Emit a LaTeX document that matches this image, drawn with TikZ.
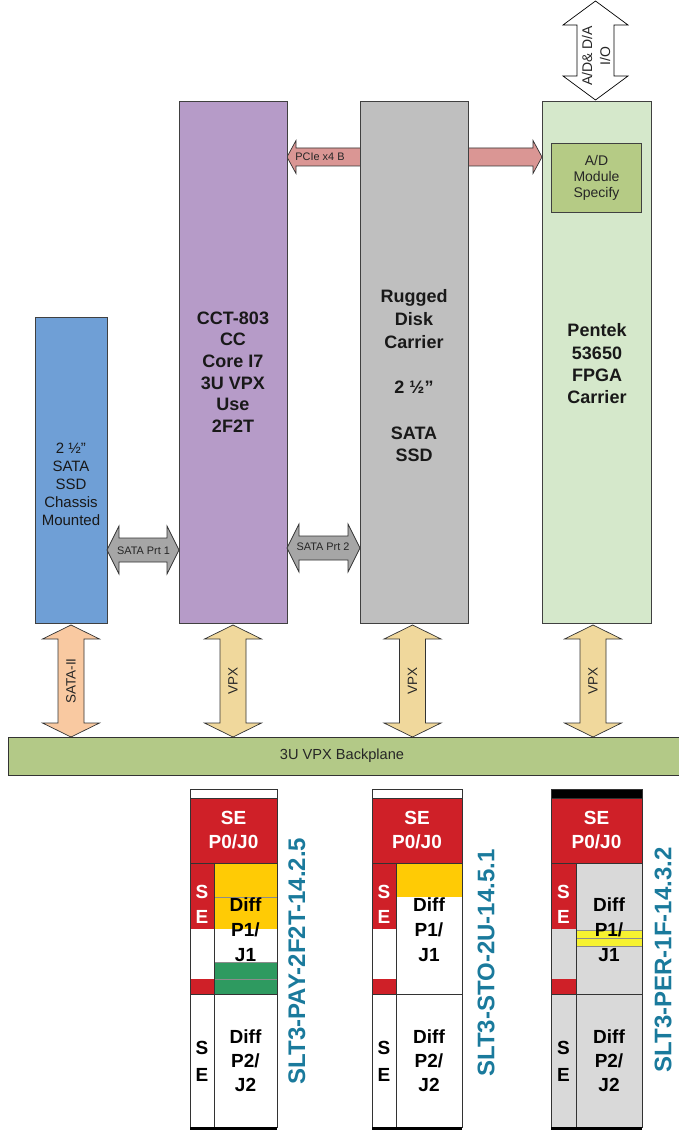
\documentclass[tikz,border=0pt]{standalone}
\usepackage{fontspec}
\setmainfont{Liberation Sans}
\usetikzlibrary{calc}
\definecolor{cblue}{HTML}{6F9FD6}
\definecolor{cpurple}{HTML}{B69BC8}
\definecolor{cgray}{HTML}{BFBFBF}
\definecolor{cgreenl}{HTML}{D5E8CB}
\definecolor{cgreenm}{HTML}{B5CB85}
\definecolor{cback}{HTML}{B3C987}
\definecolor{cpcie}{HTML}{DA9694}
\definecolor{csata}{HTML}{A6A6A6}
\definecolor{csataii}{HTML}{F9C9A1}
\definecolor{cvpx}{HTML}{F0D89C}
\definecolor{cred}{HTML}{CF2028}
\definecolor{cyel}{HTML}{FFCB05}
\definecolor{cgrn}{HTML}{2E9A60}
\definecolor{clgray}{HTML}{D9D9D9}
\definecolor{cbyel}{HTML}{F7F230}
\definecolor{cteal}{HTML}{1A7A9C}
\newcommand{\VArrow}[7]{%
 \filldraw[#1] (#2,#3) -- ({#2+#5},{#3+#7}) -- ({#2+#6},{#3+#7}) -- ({#2+#6},{#4-#7}) -- ({#2+#5},{#4-#7}) -- (#2,#4) -- ({#2-#5},{#4-#7}) -- ({#2-#6},{#4-#7}) -- ({#2-#6},{#3+#7}) -- ({#2-#5},{#3+#7}) -- cycle;}
\newcommand{\HArrow}[7]{%
 \filldraw[#1] (#2,#4) -- ({#2+#7},{#4-#5}) -- ({#2+#7},{#4-#6}) -- ({#3-#7},{#4-#6}) -- ({#3-#7},{#4-#5}) -- (#3,#4) -- ({#3-#7},{#4+#5}) -- ({#3-#7},{#4+#6}) -- ({#2+#7},{#4+#6}) -- ({#2+#7},{#4+#5}) -- cycle;}
\begin{document}
\begin{tikzpicture}[x=1pt,y=-1pt,
  box/.style={draw=black!75, line width=0.8pt, inner sep=0pt},
  arr/.style={draw=black!80, line width=0.7pt},
  bigtxt/.style={font=\fontsize{18}{22}\selectfont\bfseries, align=center, text=black!90},
  smalltxt/.style={font=\fontsize{10.9}{12}\selectfont, text=black!85},
  midtxt/.style={font=\fontsize{13.5}{16}\selectfont, text=black!85},
  cell/.style={draw=black!80, line width=0.7pt},
  sep/.style={draw=black!45, line width=0.5pt},
  setxt/.style={font=\fontsize{19}{24}\selectfont\bfseries, align=center, text=white},
  dtxt/.style={font=\fontsize{19}{25}\selectfont\bfseries, align=center, text=black},
  slt/.style={font=\fontsize{24}{26}\selectfont\bfseries, text=cteal, rotate=90}]
\useasboundingbox (0,0) rectangle (678,1131);

% PCIe arrow (behind the disk carrier)
\HArrow{arr, fill=cpcie}{287}{542}{157}{16.5}{9}{9}
\node[smalltxt] (pcie) at (320,157) {PCIe x4 B};

% main boxes
\node[box, fill=cblue, minimum width=72, minimum height=306] (ssd) at (71,470) {};
\node[box, fill=cpurple, minimum width=108, minimum height=522] (cpu) at (233,362) {};
\node[box, fill=cgray, minimum width=108, minimum height=522] (disk) at (414,362) {};
\node[box, fill=cgreenl, minimum width=109, minimum height=522] (fpga) at (596.5,362) {};
\node[box, fill=cgreenm, minimum width=90, minimum height=69, font=\fontsize{14}{16}\selectfont, align=center, text=black!85] (adm) at (596.5,177.5) {A/D\\Module\\Specify};

\node[font=\fontsize{15}{18}\selectfont, align=center, text=black!90] (ssdt) at (71,484) {2 ½”\\SATA\\SSD\\Chassis\\Mounted};
\node[bigtxt, font=\fontsize{18}{21.6}\selectfont\bfseries] (cput) at (233,372) {CCT-803\\CC\\Core I7\\3U VPX\\Use\\2F2T};
\node[bigtxt, font=\fontsize{18}{22.7}\selectfont\bfseries] (diskt) at (414,376) {Rugged\\Disk\\Carrier\\\mbox{}\\2 ½”\\\mbox{}\\SATA\\SSD};
\node[bigtxt, font=\fontsize{18}{22.3}\selectfont\bfseries] (fpgat) at (597,364) {Pentek\\53650\\FPGA\\Carrier};

% top I/O arrow
\VArrow{arr, draw=black, fill=white}{595.5}{1}{100}{32.5}{18.5}{24}
\node[font=\fontsize{14}{18}\selectfont, align=center, rotate=90, text=black!85] (io) at (596,56) {A/D\& D/A\\I/O};

% SATA port arrows
\HArrow{arr, fill=csata}{107}{179}{550}{24}{12}{12}
\node[smalltxt] (sp1) at (143.5,551) {SATA Prt 1};
\HArrow{arr, fill=csata}{287}{360}{548}{24}{12}{12}
\node[smalltxt] (sp2) at (323,547) {SATA Prt 2};

% backplane
\filldraw[draw=black!80, line width=0.8pt, fill=cback] (8,737) rectangle (682,775);
\node[midtxt, font=\fontsize{14.6}{16}\selectfont] (bp) at (342,756) {3U VPX Backplane};

% vertical arrows to backplane
\VArrow{arr, fill=csataii}{71}{625}{737}{28.5}{13}{14}
\VArrow{arr, fill=cvpx}{233}{625}{737}{28.5}{13}{14}
\VArrow{arr, fill=cvpx}{412.5}{625}{737}{28.5}{13}{14}
\VArrow{arr, fill=cvpx}{593}{625}{737}{28.5}{13}{14}
\node[midtxt, rotate=90] (s2) at (71,681) {SATA-II};
\node[midtxt, rotate=90] (v1) at (233,681) {VPX};
\node[midtxt, rotate=90] (v2) at (412.5,681) {VPX};
\node[midtxt, rotate=90] (v3) at (593,681) {VPX};

% ---------- connector 1 ----------
\filldraw[cell, fill=white] (190,789) rectangle (277,798);
\filldraw[cell, fill=cred] (190,798) rectangle (277,863);
\fill[white] (190,863) rectangle (214,994);
\fill[cred] (190,863) rectangle (214,929);
\fill[cred] (190,979) rectangle (214,994);
\fill[white] (214,863) rectangle (277,994);
\fill[cyel] (214,863) rectangle (277,929);
\fill[cgrn] (214,962) rectangle (277,994);
\draw[sep] (214,897) -- (277,897);
\draw[sep] (214,962) -- (277,962);
\draw[sep] (214,979) -- (277,979);
\draw[cell] (190,863) rectangle (214,994);
\draw[cell] (214,863) rectangle (277,994);
\filldraw[cell, fill=white] (190,994) rectangle (214,1127);
\filldraw[cell, fill=white] (214,994) rectangle (277,1127);
\draw[line width=3pt] (190,1128) -- (277,1128);
\node[setxt] (c1p0) at (233.5,830) {SE\\P0/J0};
\node[setxt, font=\fontsize{19}{25}\selectfont\bfseries] (c1se) at (202,904) {S\\E};
\node[dtxt] (c1d1) at (245.5,930) {Diff\\P1/\\J1};
\node[dtxt, font=\fontsize{19}{27}\selectfont\bfseries] (c1se2) at (202,1061) {S\\E};
\node[dtxt, font=\fontsize{19}{24}\selectfont\bfseries] (c1d2) at (245.5,1061) {Diff\\P2/\\J2};
\node[slt] (l1) at (297,961) {SLT3-PAY-2F2T-14.2.5};

% ---------- connector 2 ----------
\filldraw[cell, fill=white] (372,789) rectangle (462,798);
\filldraw[cell, fill=cred] (372,798) rectangle (462,863);
\fill[white] (372,863) rectangle (396,994);
\fill[cred] (372,863) rectangle (396,929);
\fill[cred] (372,979) rectangle (396,994);
\fill[white] (396,863) rectangle (462,994);
\fill[cyel] (396,863) rectangle (462,897);
\draw[cell] (372,863) rectangle (396,994);
\draw[cell] (396,863) rectangle (462,994);
\filldraw[cell, fill=white] (372,994) rectangle (396,1127);
\filldraw[cell, fill=white] (396,994) rectangle (462,1127);
\draw[line width=3pt] (372,1128) -- (462,1128);
\node[setxt] (c2p0) at (417,830) {SE\\P0/J0};
\node[setxt, font=\fontsize{19}{25}\selectfont\bfseries] (c2se) at (384,904) {S\\E};
\node[dtxt] (c2d1) at (429,930) {Diff\\P1/\\J1};
\node[dtxt, font=\fontsize{19}{27}\selectfont\bfseries] (c2se2) at (384,1061) {S\\E};
\node[dtxt, font=\fontsize{19}{24}\selectfont\bfseries] (c2d2) at (429,1061) {Diff\\P2/\\J2};
\node[slt] (l2) at (486,963) {SLT3-STO-2U-14.5.1};

% ---------- connector 3 ----------
\filldraw[cell, fill=black] (551,789) rectangle (642,798);
\filldraw[cell, fill=cred] (551,798) rectangle (642,863);
\fill[clgray] (551,863) rectangle (576,994);
\fill[cred] (551,863) rectangle (576,929);
\fill[cred] (551,979) rectangle (576,994);
\fill[clgray] (576,863) rectangle (642,994);
\fill[cbyel] (576,930) rectangle (642,946);
\draw[sep] (576,930) -- (642,930);
\draw[sep] (576,938) -- (642,938);
\draw[sep] (576,946) -- (642,946);
\draw[cell] (551,863) rectangle (576,994);
\draw[cell] (576,863) rectangle (642,994);
\filldraw[cell, fill=clgray] (551,994) rectangle (576,1127);
\filldraw[cell, fill=clgray] (576,994) rectangle (642,1127);
\draw[line width=3pt] (551,1128) -- (642,1128);
\node[setxt] (c3p0) at (596.5,830) {SE\\P0/J0};
\node[setxt, font=\fontsize{19}{25}\selectfont\bfseries] (c3se) at (563.5,904) {S\\E};
\node[dtxt] (c3d1) at (609,930) {Diff\\P1/\\J1};
\node[dtxt, font=\fontsize{19}{27}\selectfont\bfseries] (c3se2) at (563.5,1061) {S\\E};
\node[dtxt, font=\fontsize{19}{24}\selectfont\bfseries] (c3d2) at (609,1061) {Diff\\P2/\\J2};
\node[slt] (l3) at (663,960) {SLT3-PER-1F-14.3.2};
\end{tikzpicture}
\end{document}
